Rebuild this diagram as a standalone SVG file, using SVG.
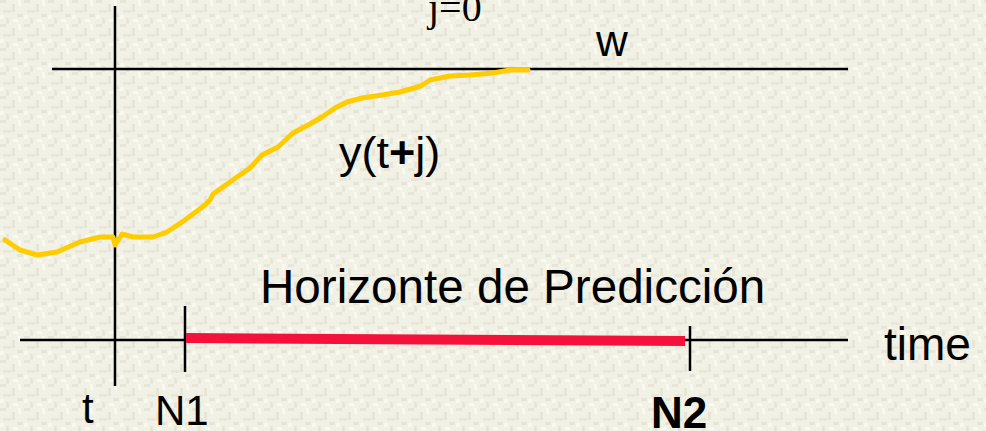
<svg xmlns="http://www.w3.org/2000/svg" width="986" height="431" viewBox="0 0 986 431">
<defs>
<pattern id="tex" width="24" height="24" patternUnits="userSpaceOnUse">
<rect width="24" height="24" fill="#f2f1e6"/>
<rect x="0" y="0" width="6" height="3" fill="#e7e6d8"/>
<rect x="12" y="4" width="3" height="8" fill="#e6e5d6"/>
<rect x="3" y="10" width="8" height="3" fill="#e8e7da"/>
<rect x="17" y="14" width="6" height="3" fill="#e6e5d7"/>
<rect x="6" y="18" width="3" height="6" fill="#e7e6d9"/>
<rect x="18" y="0" width="3" height="6" fill="#f9f9f0"/>
<rect x="0" y="15" width="4" height="4" fill="#f9f9f0"/>
<rect x="13" y="19" width="5" height="3" fill="#f9f9f0"/>
</pattern>
<style>
.ax{stroke:#000;stroke-width:2.5;fill:none}
.sans{font-family:"Liberation Sans",Arial,sans-serif;fill:#000}
</style>
</defs>
<rect width="986" height="431" fill="url(#tex)"/>
<g id="connectors">
<line class="ax" x1="115" y1="6" x2="115" y2="386"/>
<line class="ax" x1="52" y1="69" x2="848" y2="69"/>
<line class="ax" x1="20" y1="340" x2="848" y2="340"/>
<line class="ax" x1="185" y1="306" x2="185" y2="372"/>
<line class="ax" x1="690" y1="326" x2="690" y2="371"/>
<line x1="186" y1="338" x2="685" y2="341" stroke="#f5123a" stroke-width="10"/>
<polyline fill="none" stroke="#ffcc00" stroke-width="5" stroke-linejoin="round" stroke-linecap="round" points="5,240 20,250 37,255 57,252 80,242 100,237 113,237 115,245 122,234 133,237 153,237 167,232 185,220 205,205 210,200 213,194 230,182 250,168 262,155 278,147 293,133 310,124 322,117 335,108 347,102 362,98 382,95 400,92 421,86 430,80 450,76 470,75 493,73 510,70 528,70"/>
</g>
<g id="label-j0"><text x="428" y="21" font-family="'Liberation Serif','Times New Roman',serif" font-size="40" fill="#000">j=0</text></g>
<g id="label-w"><text class="sans" x="596" y="56" font-size="44">w</text></g>
<g id="label-y"><text class="sans" x="339" y="168" font-size="45">y(t<tspan font-weight="bold">+</tspan>j)</text></g>
<g id="label-horizon"><text class="sans" x="260" y="303" font-size="47.6">Horizonte de Predicción</text></g>
<g id="label-time"><text class="sans" x="884" y="360" font-size="46">time</text></g>
<g id="label-t"><text class="sans" x="82" y="423" font-size="42">t</text></g>
<g id="label-N1"><text class="sans" x="155" y="425" font-size="42">N1</text></g>
<g id="label-N2"><text class="sans" x="651" y="428" font-size="44" font-weight="bold">N2</text></g>
</svg>
